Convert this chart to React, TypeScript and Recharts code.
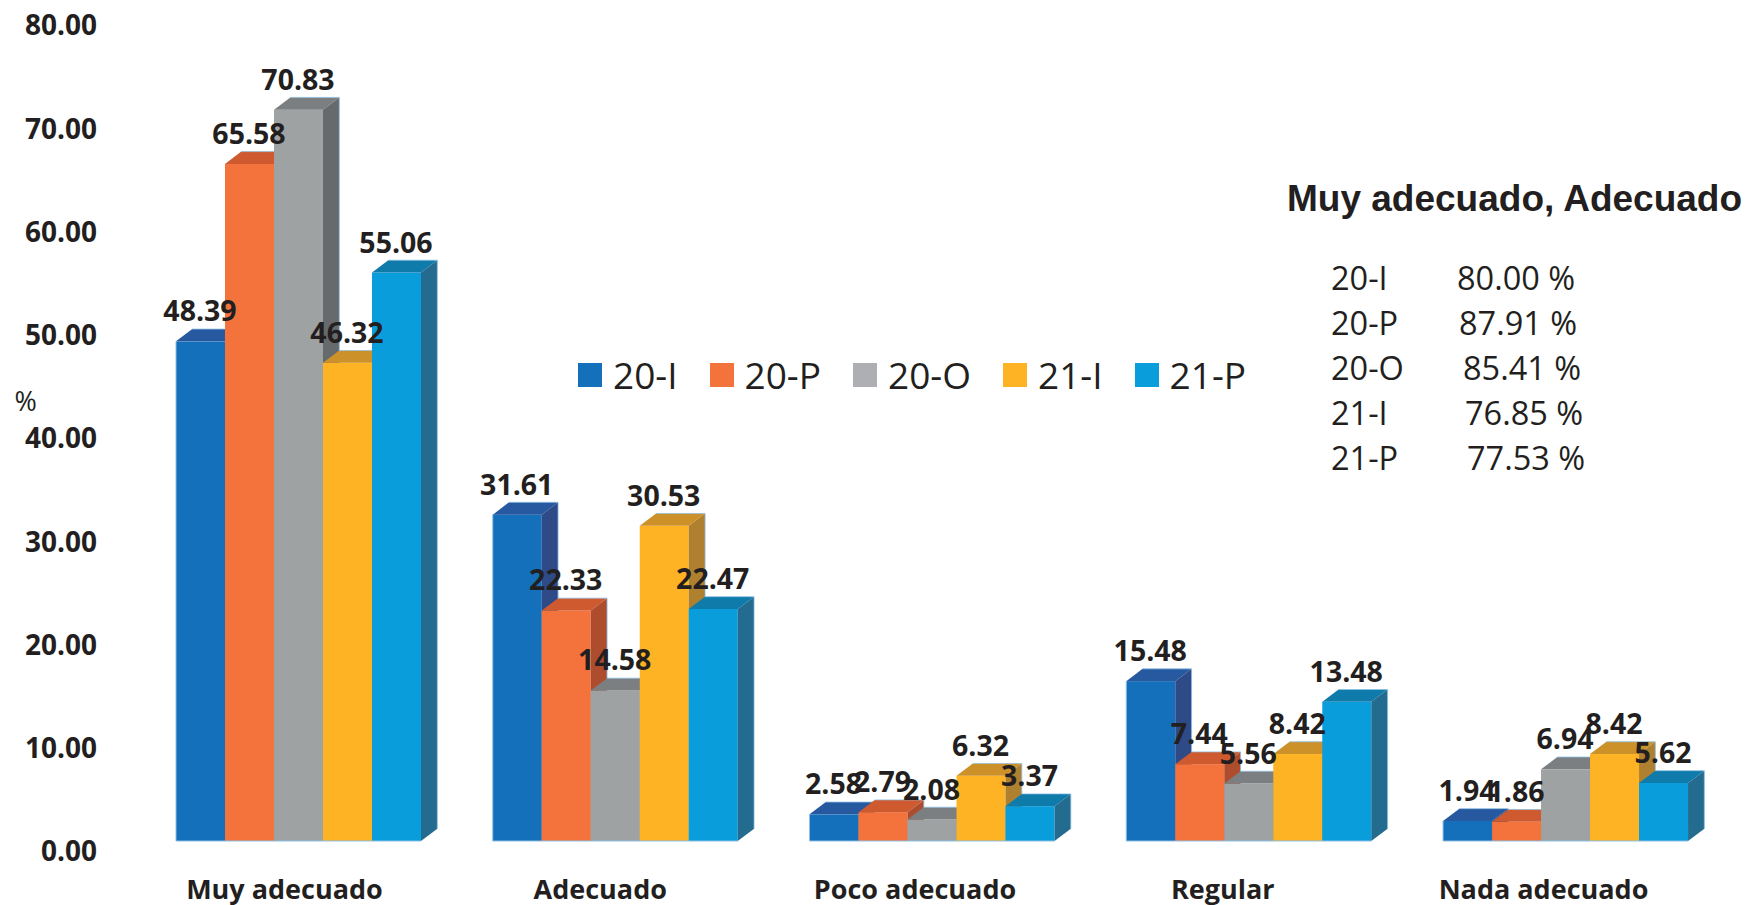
import React from "react";
import { BarChart, Bar, XAxis, YAxis, Legend, LabelList } from "recharts";

const categories = ["Muy adecuado", "Adecuado", "Poco adecuado", "Regular", "Nada adecuado"];
const s20I = [48.39, 31.61, 2.58, 15.48, 1.94];
const s20P = [65.58, 22.33, 2.79, 7.44, 1.86];
const s20O = [70.83, 14.58, 2.08, 5.56, 6.94];
const s21I = [46.32, 30.53, 6.32, 8.42, 8.42];
const s21P = [55.06, 22.47, 3.37, 13.48, 5.62];
const yTicks = [0, 10, 20, 30, 40, 50, 60, 70, 80];
const summaryTitle = "Muy adecuado, Adecuado";
const summaryNames = ["20-I", "20-P", "20-O", "21-I", "21-P"];
const summaryValues = ["80.00 %", "87.91 %", "85.41 %", "76.85 %", "77.53 %"];

const data = categories.map((name, i) => ({
  name,
  "20-I": s20I[i],
  "20-P": s20P[i],
  "20-O": s20O[i],
  "21-I": s21I[i],
  "21-P": s21P[i],
}));

const series = [
  { key: "20-I", front: "#1570BB", top: "#2659A0", side: "#2E4B88", swatch: "#1570BB" },
  { key: "20-P", front: "#F4733D", top: "#D05A2F", side: "#AD4D2E", swatch: "#F4733D" },
  { key: "20-O", front: "#9FA2A3", top: "#7C7F82", side: "#676A6D", swatch: "#AEAFB2" },
  { key: "21-I", front: "#FDB323", top: "#CD912A", side: "#AF8030", swatch: "#FDB323" },
  { key: "21-P", front: "#0A9DDC", top: "#0E7BAB", side: "#236B8F", swatch: "#0A9DDC" },
];

const INK = "#231F20";
const EDGE = "#8DBFE3";
const FONT = "'Open Sans', sans-serif";
const DEPTH_X = 16.3;
const DEPTH_Y = 12.3;
const categoryTickShift = [-13, -14, -16, -25, -21];
const valueColumnLeft = [1457, 1459, 1463, 1465, 1467];

const box = (style: React.CSSProperties) => ({ position: "absolute" as const, whiteSpace: "nowrap" as const, lineHeight: 1, ...style });

function shape3d(top: string, side: string, isFirst: boolean) {
  return (p: any) => {
    const { x, y, width: w, height: h, fill } = p;
    const backY = y - DEPTH_Y;
    const backR = x + w + DEPTH_X;
    return (
      <g>
        <rect x={x} y={y} width={w} height={h} fill={fill} />
        <polygon points={`${x},${y} ${x + DEPTH_X},${backY} ${backR},${backY} ${x + w},${y}`} fill={top} />
        <polygon points={`${x + w},${y} ${backR},${backY} ${backR},${y + h - DEPTH_Y} ${x + w},${y + h}`} fill={side} />
        <polyline points={`${x + DEPTH_X},${backY} ${backR},${backY} ${backR},${y + h - DEPTH_Y}`} fill="none" stroke={EDGE} strokeWidth={0.8} />
        <line x1={x} y1={y + h} x2={x + w} y2={y + h} stroke={EDGE} strokeWidth={1} />
        {isFirst && <line x1={x} y1={y} x2={x} y2={y + h} stroke={EDGE} strokeWidth={1} />}
      </g>
    );
  };
}

const barLabel = (p: any) => (
  <text
    x={p.x + p.width / 2 - 0.5}
    y={p.y - 31}
    textAnchor="middle"
    dominantBaseline="central"
    fontFamily={FONT}
    fontWeight={700}
    fontSize={28.5}
    fill={INK}
  >
    {Number(p.value).toFixed(2)}
  </text>
);

const categoryTick = (p: any) => (
  <text
    x={p.x + categoryTickShift[p.index]}
    y={888}
    textAnchor="middle"
    dominantBaseline="central"
    fontFamily={FONT}
    fontWeight={700}
    fontSize={27}
    fill={INK}
  >
    {p.payload.value}
  </text>
);

const legendContent = (p: any) => (
  <div style={{ display: "flex", alignItems: "center", fontFamily: FONT, fontSize: 37, color: INK, lineHeight: 1 }}>
    {p.payload.map((e: any, i: number) => (
      <div key={e.value} style={{ display: "flex", alignItems: "center", marginRight: 32 }}>
        <span style={{ width: 24, height: 24, marginRight: 11, background: series[i].swatch, display: "inline-block" }} />
        <span>{e.value}</span>
      </div>
    ))}
  </div>
);

export default function App() {
  return (
    <div style={{ position: "absolute", left: 0, top: 0, width: 1747, height: 905, overflow: "hidden", background: "#fff" }}>
      <BarChart
        width={1747}
        height={905}
        data={data}
        margin={{ top: 15, right: 24.1, bottom: 0, left: 0 }}
        barCategoryGap={36.9}
        barGap={0}
      >
        <XAxis dataKey="name" axisLine={false} tickLine={false} height={64} interval={0} tick={categoryTick} />
        <YAxis
          width={139.1}
          domain={[0, 80]}
          ticks={yTicks}
          axisLine={false}
          tickLine={false}
          tickSize={0}
          tickMargin={42.1}
          tickFormatter={(v: number) => v.toFixed(2)}
          tick={{ dy: 10.5, fontFamily: FONT, fontWeight: 700, fontSize: 28, fill: INK }}
          interval={0}
          label={{ value: "%", position: "insideLeft", dx: 9.5, dy: -27, fontFamily: FONT, fontSize: 27, fill: INK }}
        />
        <Legend
          layout="horizontal"
          verticalAlign="middle"
          align="center"
          itemSorter={null}
          content={legendContent}
          wrapperStyle={{ position: "absolute", left: 578, top: 356, width: "auto" }}
        />
        {series.map((s, i) => (
          <Bar key={s.key} dataKey={s.key} name={s.key} fill={s.front} isAnimationActive={false} shape={shape3d(s.top, s.side, i === 0)}>
            <LabelList dataKey={s.key} content={barLabel} />
          </Bar>
        ))}
      </BarChart>
      <div style={box({ left: 1287, top: 180, fontFamily: "'Liberation Sans', sans-serif", fontWeight: 700, fontSize: 37, color: INK })}>{summaryTitle}</div>
      {summaryNames.map((n, i) => (
        <div key={n} style={box({ left: 1331, top: 262 + i * 45, fontFamily: FONT, fontSize: 32.5, color: INK, height: 36 })}>{n}</div>
      ))}
      {summaryValues.map((v, i) => (
        <div key={v} style={box({ left: valueColumnLeft[i], top: 262 + i * 45, fontFamily: FONT, fontSize: 32.5, color: INK, height: 36 })}>{v}</div>
      ))}
    </div>
  );
}
